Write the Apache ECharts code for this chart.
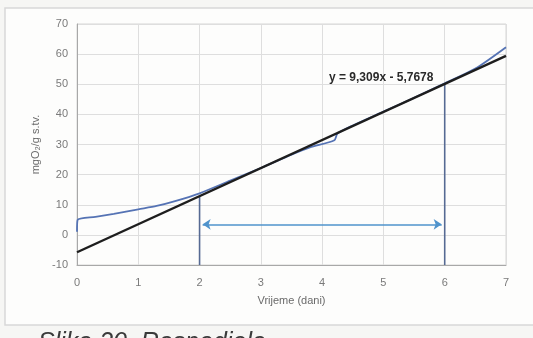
<!DOCTYPE html>
<html>
<head>
<meta charset="utf-8">
<script src="https://cdn.jsdelivr.net/npm/echarts@6/dist/echarts.min.js"></script>
<style>
  html, body { margin: 0; padding: 0; background: #f6f6f4; }
  #chart { width: 533px; height: 338px; }
</style>
</head>
<body>
<div id="chart"></div>
<script>
// Measured oxygen consumption over time
const curveX = [0, 0.01, 0.3, 0.6, 1.0, 1.3, 1.6, 2.0, 2.5, 3.0, 3.5, 3.8, 4.2, 4.25, 4.5, 5.0, 5.5, 6.0, 6.5, 7.0];
const curveY = [1.0, 5.0, 6.0, 7.0, 8.5, 9.6, 11.2, 13.8, 18.0, 22.2, 26.6, 29.0, 31.4, 33.6, 36.3, 40.9, 45.5, 50.3, 55.2, 62.3];

// Linear trend y = 9,309x - 5,7678, drawn between its end points
const trendX = [0, 7];
const trendY = [-5.77, 59.40];
const trendLabel = 'y = 9,309x - 5,7678';

// Interval markers (days 2 and 6) and where they meet the trend line
const markerX = [2, 6];
const markerTop = [12.85, 50.09];
const axisMinY = -10;

// Double arrow spanning the interval
const arrowX = [2.05, 5.95];
const arrowY = 3.5;

const xTicks = [0, 1, 2, 3, 4, 5, 6, 7];
const yTicks = [-10, 0, 10, 20, 30, 40, 50, 60, 70];

const chart = echarts.init(document.getElementById('chart'), null, { renderer: 'canvas' });

const zip = (xs, ys) => xs.map((x, i) => [x, ys[i]]);

const markerSeries = markerX.map((x, i) => ({
  type: 'line',
  data: [[x, markerTop[i]], [x, axisMinY]],
  symbol: 'none',
  lineStyle: { color: '#566a93', width: 1.6 },
  silent: true,
  z: 3
}));

chart.setOption({
  animation: false,
  backgroundColor: 'transparent',
  graphic: [
    {
      type: 'rect',
      shape: { x: 5, y: 8, width: 540, height: 317 },
      style: { fill: '#fdfdfc', stroke: '#d8d8d8', lineWidth: 1.5 },
      z: -10
    },
    {
      type: 'text',
      left: 329, top: 72,
      style: { text: trendLabel, font: 'bold 12px "Liberation Sans", Arial, sans-serif', fill: '#2a2a2a' },
      z: 10
    },
    {
      type: 'text',
      left: 38, top: 331,
      style: { text: 'Slika 20. Raspodjela', font: 'italic 25px "Liberation Sans", Arial, sans-serif', fill: '#3a3a3a' },
      z: 10
    }
  ],
  grid: {
    left: 77, right: 27, top: 24, bottom: 73,
    show: true, borderColor: '#d6d6d6', borderWidth: 1, backgroundColor: 'transparent'
  },
  xAxis: {
    type: 'value',
    min: xTicks[0], max: xTicks[xTicks.length - 1], interval: 1,
    name: 'Vrijeme (dani)', nameLocation: 'middle', nameGap: 30,
    nameTextStyle: { color: '#6a6a6a', fontSize: 11, fontFamily: '"Liberation Sans", Arial, sans-serif' },
    axisLine: { show: true, onZero: false, lineStyle: { color: '#a8a8a8' } },
    axisTick: { show: false },
    axisLabel: { color: '#7a7a7a', fontSize: 11, margin: 12, fontFamily: '"Liberation Sans", Arial, sans-serif' },
    splitLine: { show: true, lineStyle: { color: '#dedede', width: 1 } }
  },
  yAxis: {
    type: 'value',
    min: yTicks[0], max: yTicks[yTicks.length - 1], interval: 10,
    name: 'mgO\u2082/g s.tv.', nameLocation: 'middle', nameGap: 36, nameRotate: 90,
    nameTextStyle: { color: '#6a6a6a', fontSize: 11, fontFamily: '"Liberation Sans", Arial, sans-serif' },
    axisLine: { show: true, onZero: false, lineStyle: { color: '#a8a8a8' } },
    axisTick: { show: false },
    axisLabel: { color: '#7a7a7a', fontSize: 11, margin: 9, fontFamily: '"Liberation Sans", Arial, sans-serif' },
    splitLine: { show: true, lineStyle: { color: '#dedede', width: 1 } }
  },
  series: [
    {
      type: 'line',
      name: 'mjereno',
      data: zip(curveX, curveY),
      symbol: 'none',
      smooth: 0.25,
      lineStyle: { color: '#5573b4', width: 1.8 },
      z: 4
    },
    {
      type: 'line',
      name: 'trend',
      data: zip(trendX, trendY),
      symbol: 'none',
      lineStyle: { color: '#1e1e1e', width: 2.4 },
      z: 5,
      markLine: {
        silent: true,
        symbol: ['arrow', 'arrow'],
        symbolSize: 8,
        label: { show: false },
        lineStyle: { color: '#4f93cc', width: 1.5, type: 'solid' },
        data: [[{ coord: [arrowX[0], arrowY] }, { coord: [arrowX[1], arrowY] }]]
      }
    },
    ...markerSeries
  ]
});
</script>
</body>
</html>
